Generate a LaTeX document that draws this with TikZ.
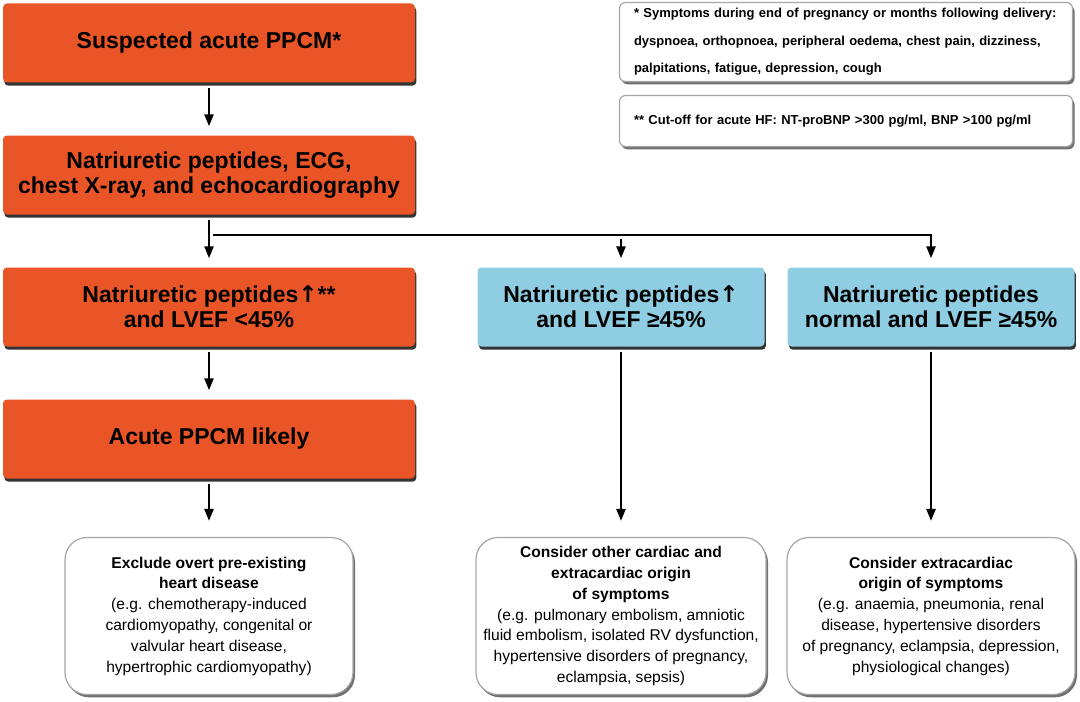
\documentclass[tikz,border=0pt]{standalone}
\usepackage{fontspec}
\setmainfont{Liberation Sans}
\newfontfamily\arrowfont{DejaVu Sans}
\usetikzlibrary{arrows.meta,shapes,positioning,shadows}
\tikzset{arr/.style={-{Triangle[length=6pt,width=4.5pt]}, shorten <=2pt, shorten >=4pt}}
\definecolor{ppcmorange}{RGB}{234,85,40}
\definecolor{ppcmblue}{RGB}{142,205,226}
\newcommand{\hd}[1]{\textbf{#1}}
\newcommand{\up}{{\arrowfont\bfseries ↑}}

\begin{document}
\begin{tikzpicture}[x=0.5pt, y=-0.5pt, node distance = 66pt, line width=1.2pt,
    main/.style={rectangle, rounded corners=2pt, fill=ppcmorange, minimum width=206pt, minimum height=39.5pt,
      align=center, font=\fontsize{11.5}{12.5}\selectfont\bfseries,
      drop shadow={shadow xshift=0.7pt, shadow yshift=-1.6pt, fill=black, opacity=0.8}},
    alt/.style={main, fill=ppcmblue, minimum width=143.5pt},
    outcome/.style={rectangle, rounded corners=11pt, draw=black!35, line width=0.6pt, fill=white,
      minimum width=144pt, minimum height=78.5pt, align=center, font=\fontsize{7.8}{10.4}\selectfont,
      drop shadow={shadow xshift=1pt, shadow yshift=-1.4pt, fill=black!70, opacity=0.8}},
    note/.style={rectangle, rounded corners=3pt, draw=black!35, line width=0.6pt, fill=white,
      text width=212pt, inner xsep=7.25pt, inner ysep=2pt, align=left, font=\fontsize{6.5}{13.75}\selectfont\bfseries,
      drop shadow={shadow xshift=1pt, shadow yshift=-1.4pt, fill=black!70, opacity=0.8}}]
    \useasboundingbox (0,0) rectangle (1080,701);

    \node[main] (sus) at (209,43) {Suspected acute PPCM*};
    \node[main] (tests) [below of = sus] {Natriuretic peptides, ECG,\\chest X-ray, and echocardiography};
    \node[main] (low) [below of = tests] {Natriuretic peptides\up**\\and LVEF <45\%};
    \node[main] (likely) [below of = low] {Acute PPCM likely};
    \node[alt] (npup) [right of = low, node distance = 206pt] {Natriuretic peptides\up\\and LVEF ≥45\%};
    \node[alt] (npnorm) [right of = npup, node distance = 155pt] {Natriuretic peptides\\normal and LVEF ≥45\%};

    \node[outcome] (excl) [below of = likely, node distance = 88.5pt]
      {\hd{Exclude overt pre-existing}\\\hd{heart disease}\\(e.g. chemotherapy-induced\\cardiomyopathy, congenital or\\valvular heart disease,\\hypertrophic cardiomyopathy)};
    \node[outcome, minimum width=145pt] (other) [below of = npup, node distance = 154.5pt]
      {\hd{Consider other cardiac and}\\\hd{extracardiac origin}\\\hd{of symptoms}\\(e.g. pulmonary embolism, amniotic\\fluid embolism, isolated RV dysfunction,\\hypertensive disorders of pregnancy,\\eclampsia, sepsis)};
    \node[outcome] (extra) [below of = npnorm, node distance = 154.5pt]
      {\hd{Consider extracardiac}\\\hd{origin of symptoms}\\(e.g. anaemia, pneumonia, renal\\disease, hypertensive disorders\\of pregnancy, eclampsia, depression,\\physiological changes)};

    \node[note, minimum height=39.5pt] (sympt) at (846,42)
      {* Symptoms during end of pregnancy or months following delivery:\\dyspnoea, orthopnoea, peripheral oedema, chest pain, dizziness,\\palpitations, fatigue, depression, cough};
    \node[note, minimum height=25.5pt] (cutoff) at (846,121)
      {** Cut-off for acute HF: NT-proBNP >300 pg/ml, BNP >100 pg/ml};

    \coordinate (fork) at (209,235);
    \draw[arr] (sus) -- (tests);
    \draw[arr] (tests) -- (low);
    \draw[arr] (fork) -| (npnorm);
    \draw[arr] (fork -| npup) -- (npup);
    \draw[arr] (low) -- (likely);
    \draw[arr, shorten >=8pt] (likely) -- (excl);
    \draw[arr, shorten >=8pt] (npup) -- (other);
    \draw[arr, shorten >=8pt] (npnorm) -- (extra);
  \end{tikzpicture}
\end{document}
